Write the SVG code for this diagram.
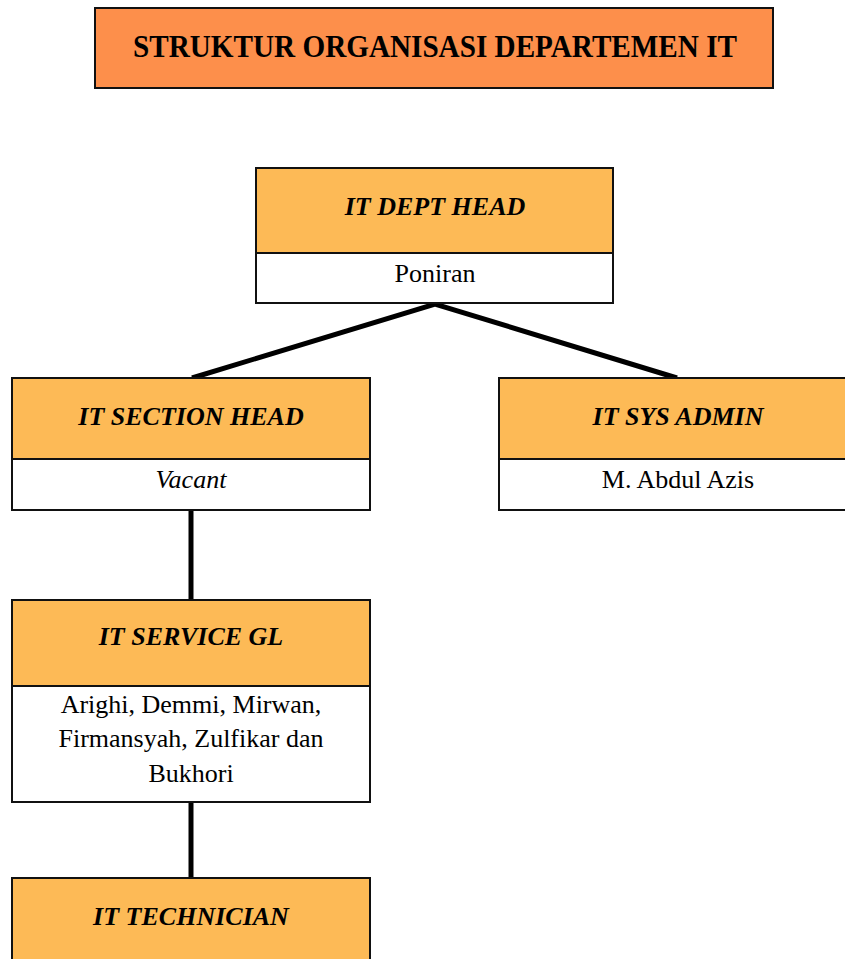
<svg xmlns="http://www.w3.org/2000/svg" width="845" height="959" viewBox="0 0 845 959">
<style>
.box{stroke:#111;stroke-width:2}
.hdr{fill:#FDBA56}
.body{fill:#fff}
text{font-family:'Liberation Serif','Tinos','Times New Roman','DejaVu Serif','Noto Serif',serif;fill:#000;text-anchor:middle}
.ttl{font-weight:bold;font-size:31px}
.h{font-weight:bold;font-style:italic;font-size:26px}
.t{font-size:26px}
.conn{stroke:#000;stroke-width:5;fill:none}
</style>
<rect width="845" height="959" fill="#fff"/>
<g id="title">
<rect class="box" x="95" y="8" width="678" height="80" fill="#FD8F4B"/>
<text class="ttl" x="435" y="57" textLength="604" lengthAdjust="spacingAndGlyphs">STRUKTUR ORGANISASI DEPARTEMEN IT</text>
</g>
<g id="connectors">
<polyline class="conn" points="192,378 435,304 677,378"/>
<line class="conn" x1="191" y1="510" x2="191" y2="600"/>
<line class="conn" x1="191" y1="802" x2="191" y2="878"/>
</g>
<g id="dept-head">
<rect class="box hdr" x="256" y="168" width="357" height="85"/>
<rect class="box body" x="256" y="253" width="357" height="50"/>
<text class="h" x="435" y="215">IT DEPT HEAD</text>
<text class="t" x="435" y="282">Poniran</text>
</g>
<g id="section-head">
<rect class="box hdr" x="12" y="378" width="358" height="81"/>
<rect class="box body" x="12" y="459" width="358" height="51"/>
<text class="h" x="191" y="425">IT SECTION HEAD</text>
<text class="t" x="191" y="488" font-style="italic">Vacant</text>
</g>
<g id="sys-admin">
<rect class="box hdr" x="499" y="378" width="358" height="81"/>
<rect class="box body" x="499" y="459" width="358" height="51"/>
<text class="h" x="678" y="425">IT SYS ADMIN</text>
<text class="t" x="678" y="488">M. Abdul Azis</text>
</g>
<g id="service-gl">
<rect class="box hdr" x="12" y="600" width="358" height="86"/>
<rect class="box body" x="12" y="686" width="358" height="116"/>
<text class="h" x="191" y="645">IT SERVICE GL</text>
<text class="t" x="191" y="713">Arighi, Demmi, Mirwan,</text>
<text class="t" x="191" y="747">Firmansyah, Zulfikar dan</text>
<text class="t" x="191" y="782">Bukhori</text>
</g>
<g id="technician">
<rect class="box hdr" x="12" y="878" width="358" height="100"/>
<text class="h" x="191" y="925">IT TECHNICIAN</text>
</g>
</svg>
